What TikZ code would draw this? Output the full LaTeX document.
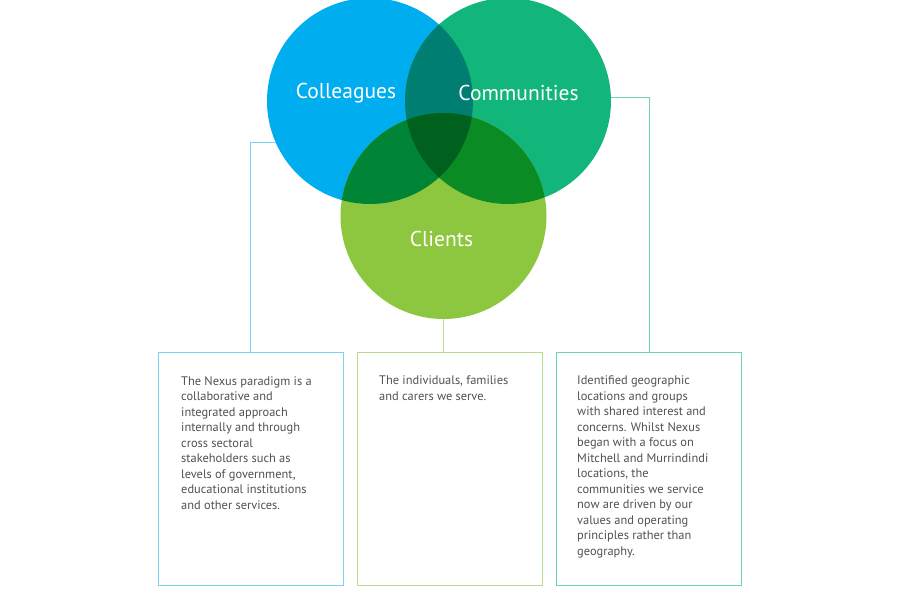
\documentclass[tikz,border=0pt]{standalone}
\usepackage{fontspec}
\setmainfont{PT Sans}
\usetikzlibrary{positioning}
\definecolor{colleaguesblue}{HTML}{00ADEF}
\definecolor{communitiesgreen}{HTML}{12B57A}
\definecolor{clientsgreen}{HTML}{8DC63F}
\definecolor{colcom}{HTML}{017E72}
\definecolor{colcli}{HTML}{008537}
\definecolor{comcli}{HTML}{0A8B24}
\definecolor{allthree}{HTML}{00611E}
\definecolor{boxblue}{HTML}{7AD3F3}
\definecolor{boxlime}{HTML}{B8DC8E}
\definecolor{boxteal}{HTML}{6FD3AC}
\definecolor{bodygray}{HTML}{4F5052}
\tikzset{
  venn/.style={circle, minimum size=206pt, inner sep=0pt, draw=none},
  vennlabel/.style={text=white, font=\fontsize{21.5}{25}\selectfont},
  infobox/.style={rectangle, minimum width=185pt, minimum height=233pt, inner sep=0pt, line width=1pt},
  infotext/.style={anchor=north west, inner sep=0pt, align=left, text=bodygray,
    font=\fontsize{12.4}{15.5}\selectfont}
}
\begin{document}
\begin{tikzpicture}[x=1pt,y=-1pt]
        \useasboundingbox (0,0) rectangle (900,600);
        % circles
        \node[venn, fill=colleaguesblue] (colleagues) at (370,101) {};
        \node[venn, fill=communitiesgreen] (communities) at (508,101) {};
        \node[venn, fill=clientsgreen] (clients) at (443.5,216) {};
        %
        \begin{scope}
          \clip (colleagues.center) circle (103);
          \fill[colcom] (communities.center) circle (103);
          \fill[colcli] (clients.center) circle (103);
        \end{scope}
        \begin{scope}
          \clip (communities.center) circle (103);
          \fill[comcli] (clients.center) circle (103);
          \clip (colleagues.center) circle (103);
          \fill[allthree] (clients.center) circle (103);
        \end{scope}
        %
        \node[vennlabel] (colleagueslabel) at (346,93) {Colleagues};
        \node[vennlabel] (communitieslabel) at (518.5,93) {Communities};
        \node[vennlabel] (clientslabel) at (441.5,239) {Clients};
        % boxes
        \node[infobox, draw=boxblue] (box1) at (250.5,468.5) {};
        \node[infobox, draw=boxlime] (box2) at (449.5,468.5) {};
        \node[infobox, draw=boxteal] (box3) at (649,468.5) {};
        %
        \node[infotext] (text1) at (181,376) {The Nexus paradigm is a\\collaborative and\\integrated approach\\internally and through\\cross sectoral\\stakeholders such as\\levels of government,\\educational institutions\\and other services.};
        \node[infotext] (text2) at (379,376) {The individuals, families\\and carers we serve.};
        \node[infotext] (text3) at (577,376) {Identified geographic\\locations and groups\\with shared interest and\\concerns. Whilst Nexus\\began with a focus on\\Mitchell and Murrindindi\\locations, the\\communities we service\\now are driven by our\\values and operating\\principles rather than\\geography.};
        % connectors
        \draw[boxblue, line width=1pt] (box1.north) |- (colleagues.204);
        \draw[boxteal, line width=1pt] (communities.2) -| (box3.north);
        \draw[boxlime, line width=1pt] (clients.south) -- (clients.south |- box2.north);
    \end{tikzpicture}
\end{document}
